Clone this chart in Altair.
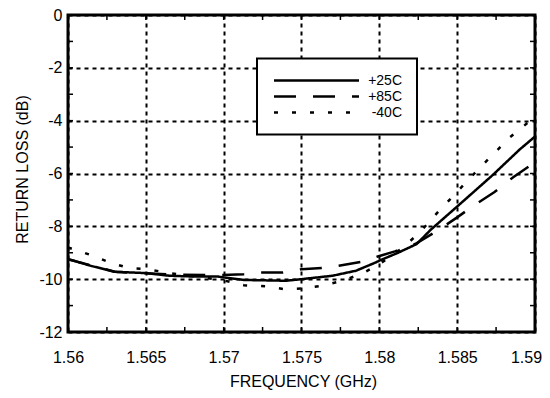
import altair as alt
import pandas as pd

# ---------- data ----------
series_names = ["+25C", "+85C", "-40C"]

freq_25 = [1.56, 1.5615, 1.563, 1.565, 1.5665, 1.568, 1.5696, 1.5713, 1.574, 1.575,
           1.577, 1.5785, 1.5798, 1.58, 1.5812, 1.5824, 1.5833, 1.585, 1.5873, 1.589, 1.59]
rl_25 = [-9.24, -9.5, -9.72, -9.77, -9.87, -9.9, -9.9, -10.03, -10.06, -10.0,
         -9.87, -9.68, -9.36, -9.3, -9.0, -8.67, -8.13, -7.25, -6.05, -5.1, -4.6]

freq_85 = [1.56, 1.563, 1.5665, 1.5695, 1.5713, 1.5724, 1.5738, 1.575, 1.5763, 1.5774,
           1.5789, 1.5799, 1.581, 1.5823, 1.5837, 1.585, 1.5862, 1.5874, 1.5886, 1.59]
rl_85 = [-9.24, -9.72, -9.82, -9.85, -9.81, -9.75, -9.75, -9.62, -9.58, -9.49,
         -9.34, -9.14, -8.95, -8.67, -8.18, -7.66, -7.16, -6.7, -6.14, -5.57]

freq_m40 = [1.56, 1.5615, 1.5627, 1.5639, 1.5651, 1.5665, 1.568, 1.5701, 1.5713, 1.5727,
            1.5739, 1.575, 1.5763, 1.5775, 1.5789, 1.58, 1.5814, 1.5826, 1.5837, 1.5848,
            1.586, 1.5872, 1.5884, 1.5897, 1.59]
rl_m40 = [-8.8, -9.09, -9.37, -9.58, -9.62, -9.77, -9.88, -10.06, -10.23, -10.27,
          -10.38, -10.35, -10.25, -10.08, -9.79, -9.43, -8.86, -8.23, -7.5, -6.82,
          -6.06, -5.34, -4.62, -4.0, -3.9]

x_major = [1.56, 1.565, 1.57, 1.575, 1.58, 1.585, 1.59]
y_major = [-12, -10, -8, -6, -4, -2, 0]
x_minor = [1.56, 1.5625, 1.565, 1.5675, 1.57, 1.5725, 1.575, 1.5775, 1.58, 1.5825,
           1.585, 1.5875, 1.59]
y_minor = [-12, -11, -10, -9, -8, -7, -6, -5, -4, -3, -2, -1, 0]

# ---------- tables ----------
rows = []
for name, fx, fy in [("+25C", freq_25, rl_25), ("+85C", freq_85, rl_85), ("-40C", freq_m40, rl_m40)]:
    for a, b in zip(fx, fy):
        rows.append({"f": a, "rl": b, "s": name})
df = pd.DataFrame(rows)

FONT = "Liberation Sans"
W, H = 467, 317
XMIN, XMAX, YMIN, YMAX = 1.56, 1.59, -12, 0
tx = 5 * (XMAX - XMIN) / W   # 5px in data units (x)
ty = 5 * (YMAX - YMIN) / H   # 5px in data units (y)

xscale = alt.Scale(domain=[XMIN, XMAX], nice=False, zero=False)
yscale = alt.Scale(domain=[YMIN, YMAX], nice=False, zero=False)

lines = alt.Chart(df).mark_line(strokeWidth=2.5, color="black", clip=True).encode(
    x=alt.X("f:Q", scale=xscale, title="FREQUENCY (GHz)",
            axis=alt.Axis(values=x_major, format="~g", grid=True, ticks=False, tickSize=0,
                          domain=False, labelPadding=30, labelBaseline="alphabetic",
                          labelFlush=False,
                          labelOffset={"condition": {"test": "datum.value > 1.5899", "value": -9},
                                       "value": 0},
                          titleY=54, titleBaseline="alphabetic", titleAlign="center",
                          titleX=235)),
    y=alt.Y("rl:Q", scale=yscale, title="RETURN LOSS (dB)",
            axis=alt.Axis(values=y_major, labelExpr="'' + datum.value", grid=True,
                          ticks=False, tickSize=0, domain=False, labelPadding=6,
                          labelFlush=False,
                          titleAngle=270, titleX=-41, titleY=154,
                          titleBaseline="alphabetic", titleAlign="center")),
    strokeDash=alt.StrokeDash(
        "s:N",
        scale=alt.Scale(domain=series_names, range=[[1, 0], [22, 17], [4, 14]]),
        sort=None,
        legend=alt.Legend(
            orient="none", legendX=189, legendY=43.5, title=None,
            symbolType="M-1,0H16", symbolSize=100, symbolStrokeWidth=2.5,
            symbolStrokeColor="black", symbolFillColor="transparent",
            labelFont=FONT, labelFontSize=14, labelColor="black",
            labelAlign="right", labelOffset=116, padding=15, rowPadding=2,
            strokeColor="black", fillColor="white",
        ),
    ),
    order=alt.Order("f:Q"),
)

xt = pd.DataFrame({"v": x_minor})
yt = pd.DataFrame({"v": y_minor})

bottom_ticks = alt.Chart(xt).mark_rule(color="black", strokeWidth=1.5).encode(
    x=alt.X("v:Q", scale=xscale), y=alt.datum(YMIN), y2=alt.datum(YMIN + ty))
top_ticks = alt.Chart(xt).mark_rule(color="black", strokeWidth=1.5).encode(
    x=alt.X("v:Q", scale=xscale), y=alt.datum(YMAX), y2=alt.datum(YMAX - ty))
left_ticks = alt.Chart(yt).mark_rule(color="black", strokeWidth=1.5).encode(
    y=alt.Y("v:Q", scale=yscale), x=alt.datum(XMIN), x2=alt.datum(XMIN + tx))
right_ticks = alt.Chart(yt).mark_rule(color="black", strokeWidth=1.5).encode(
    y=alt.Y("v:Q", scale=yscale), x=alt.datum(XMAX), x2=alt.datum(XMAX - tx))

chart = alt.layer(bottom_ticks, top_ticks, left_ticks, right_ticks, lines).properties(
    width=W, height=H,
    autosize=alt.AutoSizeParams(type="none"),
    padding={"left": 60, "top": 7, "right": 7, "bottom": 58},
    background="white",
).configure_view(
    stroke="black", strokeWidth=3
).configure_axis(
    gridColor="black", gridDash=[4, 4], gridWidth=2, gridOpacity=1,
    labelFont=FONT, labelFontSize=16, labelColor="black",
    titleFont=FONT, titleFontSize=16, titleFontWeight="normal", titleColor="black",
).configure_legend(
    strokeWidth=2
)

chart.save("out.html", embed_options={"renderer": "svg", "actions": False})
